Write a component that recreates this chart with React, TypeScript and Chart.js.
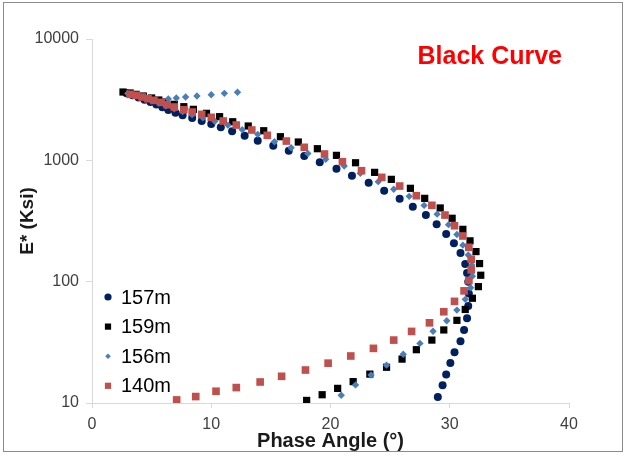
import React, { useEffect, useRef } from 'react';
import { Chart, registerables } from 'chart.js';

Chart.register(...registerables);

const seriesLabels = ['157m', '159m', '156m', '140m'];
const yTickValues = [10, 100, 1000, 10000];
const chartTitle = 'Black Curve';
const xTitle = 'Phase Angle (°)';
const yTitle = 'E* (Ksi)';

const s157X = [2.9, 3.4, 3.9, 4.4, 4.9, 5.4, 5.9, 6.4, 7.0, 7.6, 8.4, 9.2, 10.0, 10.8, 11.75, 12.8, 13.9, 15.2, 16.5, 17.8, 19.1, 20.5, 21.8, 23.2, 24.5, 25.8, 26.9, 28.0, 28.9, 29.7, 30.35, 30.9, 31.3, 31.45, 31.55, 31.6, 31.55, 31.45, 31.2, 30.9, 30.4, 30.05, 29.7, 29.4, 29.0];
const s157Y = [3580, 3440, 3300, 3160, 3020, 2880, 2740, 2600, 2470, 2350, 2230, 2110, 1990, 1870, 1740, 1595, 1452, 1319, 1200, 1084, 964, 853, 746, 653, 561, 482, 414, 354, 297, 247, 207, 172, 140, 118, 100, 80, 63, 50, 40, 32.3, 26.2, 21.4, 17.2, 14, 11.2];

const s159X = [2.6, 3.2, 3.7, 4.3, 5.0, 5.6, 6.2, 6.9, 7.7, 8.5, 9.6, 10.7, 11.8, 13.1, 14.4, 15.8, 17.3, 18.9, 20.5, 22.1, 23.7, 25.1, 26.7, 27.9, 29.2, 30.2, 31.1, 31.7, 32.2, 32.5, 32.6, 32.4, 31.9, 31.3, 30.6, 29.5, 28.5, 27.2, 26.0, 24.7, 23.3, 21.9, 20.6, 19.3, 18.0];
const s159Y = [3656, 3589, 3500, 3389, 3265, 3142, 3026, 2897, 2767, 2632, 2440, 2290, 2080, 1919, 1754, 1566, 1416, 1247, 1099, 955, 796, 697, 588, 486, 405, 333, 270, 217, 177, 141, 113, 91, 73, 59, 48, 40, 33, 27.5, 23, 19.7, 17.3, 15, 13.2, 11.7, 10.5];

const s156X = [12.2, 11.1, 10.0, 8.8, 7.85, 7.07, 6.4, 3.0, 3.5, 4.0, 4.5, 5.0, 5.6, 6.2, 6.9, 7.6, 8.4, 9.3, 10.3, 11.4, 12.6, 13.9, 15.3, 16.7, 18.1, 19.6, 21.15, 22.5, 24.0, 25.3, 26.6, 27.85, 28.94, 29.9, 30.6, 31.1, 31.55, 31.85, 31.9, 31.75, 31.3, 30.6, 29.75, 28.6, 27.5, 26.1, 24.7, 23.4, 22.1, 20.9];
const s156Y = [3640, 3565, 3475, 3390, 3326, 3265, 3210, 3560, 3450, 3340, 3220, 3100, 2960, 2810, 2660, 2520, 2380, 2240, 2100, 1950, 1790, 1637, 1423, 1270, 1140, 1019, 898, 781, 667, 578, 505, 425, 360, 295, 245, 200, 166, 137, 111, 89, 71.5, 58.3, 47.6, 39, 31, 25.2, 20.5, 17, 14.1, 11.6];

const s140X = [7.1, 8.7, 10.4, 12.1, 14.1, 15.9, 17.9, 19.8, 21.7, 23.6, 25.3, 26.8, 28.3, 29.5, 30.4, 31.2, 31.6, 31.8, 31.8, 31.6, 31.1, 30.4, 29.6, 28.5, 27.2, 25.8, 24.3, 22.6, 21.0, 19.5, 17.8, 16.3, 14.7, 13.4, 12.1, 11.0, 10.0, 9.2, 8.4, 7.7, 6.9, 6.3, 5.8, 5.2, 4.7, 4.2, 3.7, 3.2];
const s140Y = [10.6, 11.3, 12.5, 13.4, 14.9, 16.6, 18.7, 21.3, 24.4, 28.2, 33.0, 38.9, 45.8, 56.5, 68.8, 84, 102, 125, 153, 192, 238, 289, 354, 426, 511, 614, 724, 821, 974, 1127, 1280, 1442, 1607, 1778, 1954, 2109, 2262, 2393, 2500, 2612, 2750, 2872, 3006, 3124, 3221, 3326, 3436, 3500];

const FONT = '"Liberation Sans", Arial, sans-serif';

const toPoints = (xs: number[], ys: number[]) => xs.map((x, i) => ({ x, y: ys[i] }));

function drawMarker(ctx: CanvasRenderingContext2D, style: string, x: number, y: number, r: number, color: string) {
  ctx.fillStyle = color;
  ctx.beginPath();
  if (style === 'circle') {
    ctx.arc(x, y, r, 0, Math.PI * 2);
  } else if (style === 'rectRot') {
    ctx.moveTo(x - r, y);
    ctx.lineTo(x, y - r);
    ctx.lineTo(x + r, y);
    ctx.lineTo(x, y + r);
    ctx.closePath();
  } else {
    const s = r * Math.SQRT1_2;
    ctx.rect(x - s, y - s, 2 * s, 2 * s);
  }
  ctx.fill();
}

const overlayPlugin = {
  id: 'overlay',
  afterDraw(chart: any) {
    const { ctx, chartArea } = chart;
    ctx.save();
    // corner title
    ctx.font = `bold 25px ${FONT}`;
    ctx.fillStyle = '#ff0000';
    ctx.textAlign = 'right';
    ctx.textBaseline = 'middle';
    ctx.fillText(chartTitle, chartArea.right - 7, chartArea.top + 18);

    // legend, in the order of seriesLabels
    const rowH = 29.6;
    const firstY = chartArea.bottom - 106;
    const markerX = chartArea.left + 16;
    const textX = chartArea.left + 29;
    ctx.font = `20px ${FONT}`;
    ctx.textAlign = 'left';
    ctx.textBaseline = 'middle';
    seriesLabels.forEach((lab, i) => {
      const ds = chart.data.datasets.find((d: any) => d.label === lab);
      if (!ds) return;
      const y = firstY + i * rowH;
      const lr = ds.pointStyle === 'circle' ? 3.6 : ds.pointStyle === 'rectRot' ? 2.8 : 4.4;
      drawMarker(ctx, ds.pointStyle, markerX, y, lr, ds.backgroundColor);
      ctx.fillStyle = '#000000';
      ctx.fillText(lab, textX, y + 1);
    });
    ctx.restore();
  },
};

export default function App() {
  const ref = useRef<HTMLCanvasElement>(null);
  useEffect(() => {
    if (!ref.current) return;
    Chart.defaults.font.family = FONT;
    const chart = new Chart(ref.current, {
      type: 'scatter',
      data: {
        datasets: [
          {
            label: seriesLabels[3],
            data: toPoints(s140X, s140Y),
            pointStyle: 'rect',
            pointRadius: 5.4,
            backgroundColor: '#c0504d',
            borderColor: '#c0504d',
            borderWidth: 0,
          },
          {
            label: seriesLabels[2],
            data: toPoints(s156X, s156Y),
            pointStyle: 'rectRot',
            pointRadius: 3.7,
            backgroundColor: '#4a7ebb',
            borderColor: '#4a7ebb',
            borderWidth: 0,
          },
          {
            label: seriesLabels[1],
            data: toPoints(s159X, s159Y),
            pointStyle: 'rect',
            pointRadius: 5.1,
            backgroundColor: '#000000',
            borderColor: '#000000',
            borderWidth: 0,
          },
          {
            label: seriesLabels[0],
            data: toPoints(s157X, s157Y),
            pointStyle: 'circle',
            pointRadius: 4,
            backgroundColor: '#002060',
            borderColor: '#002060',
            borderWidth: 0,
          },
        ],
      },
      options: {
        responsive: false,
        animation: false,
        events: [],
        layout: { padding: { left: 0, top: 39, right: 59, bottom: 0 } },
        plugins: {
          legend: { display: false },
          tooltip: { enabled: false },
          title: { display: false },
        },
        scales: {
          x: {
            type: 'linear',
            min: 0,
            max: 40,
            afterFit(scale: any) {
              scale.height = 55;
            },
            ticks: {
              stepSize: 10,
              color: '#404040',
              font: { size: 16, family: FONT },
              padding: 7,
              maxRotation: 0,
            },
            grid: {
              display: true,
              drawOnChartArea: false,
              drawTicks: true,
              tickLength: 5,
              color: '#d9d9d9',
            },
            border: { display: true, color: '#d9d9d9' },
            title: {
              display: true,
              text: xTitle,
              color: '#1a1a1a',
              font: { size: 20, weight: 'bold', family: FONT },
              padding: { top: 0, bottom: 5 },
            },
          },
          y: {
            type: 'logarithmic',
            min: 10,
            max: 10000,
            afterFit(scale: any) {
              scale.width = 92;
            },
            afterBuildTicks(scale: any) {
              scale.ticks = yTickValues.map((v) => ({ value: v, major: true }));
            },
            ticks: {
              color: '#404040',
              font: { size: 16, family: FONT },
              padding: 7,
              callback: (v: any) => String(v),
            },
            grid: {
              display: true,
              drawOnChartArea: false,
              drawTicks: true,
              tickLength: 6,
              color: '#d9d9d9',
            },
            border: { display: true, color: '#d9d9d9' },
            title: {
              display: true,
              text: yTitle,
              color: '#1a1a1a',
              font: { size: 19, weight: 'bold', family: FONT },
              padding: { top: 16, bottom: 0 },
            },
          },
        },
      },
      plugins: [overlayPlugin],
    });
    return () => chart.destroy();
  }, []);

  return (
    <div style={{ position: 'fixed', left: 0, top: 0, width: 628, height: 458, background: '#ffffff' }}>
      <div
        style={{
          position: 'absolute',
          left: 3,
          top: 2,
          width: 620,
          height: 450,
          border: '1px solid #8c8c8c',
          boxSizing: 'border-box',
        }}
      />
      <canvas
        ref={ref}
        width={628}
        height={458}
        style={{ position: 'absolute', left: 0, top: 0, width: 628, height: 458 }}
      />
    </div>
  );
}
